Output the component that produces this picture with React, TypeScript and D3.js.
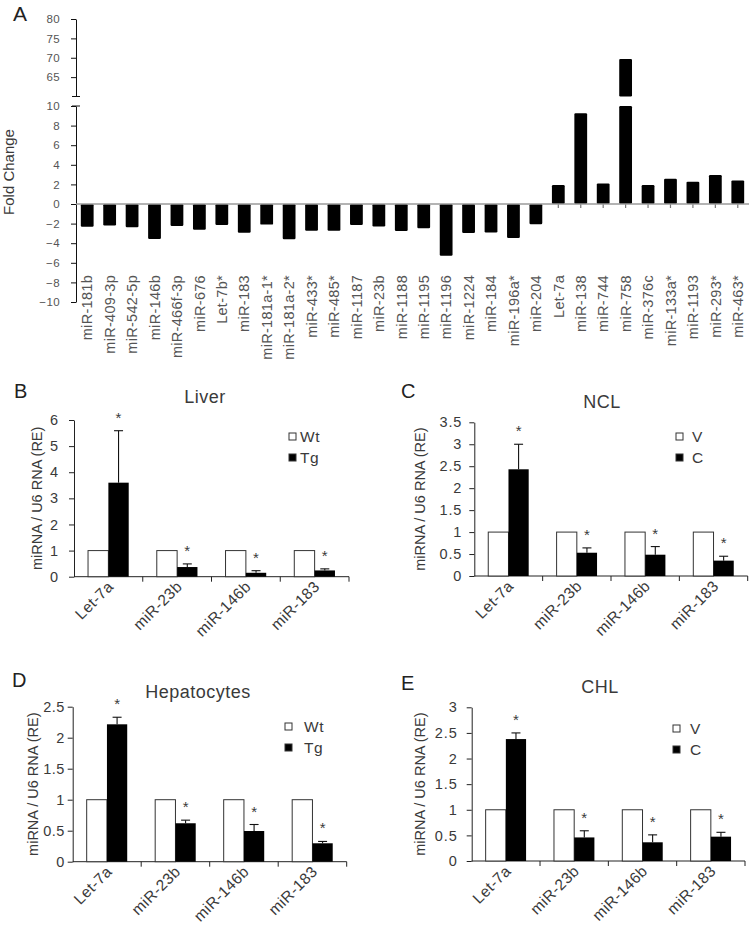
import { useEffect, useRef } from 'react';
import * as d3 from 'd3';

// Panel A: fold change of miRNAs
const foldCategories = [
  'miR-181b', 'miR-409-3p', 'miR-542-5p', 'miR-146b', 'miR-466f-3p', 'miR-676', 'Let-7b*',
  'miR-183', 'miR-181a-1*', 'miR-181a-2*', 'miR-433*', 'miR-485*', 'miR-1187', 'miR-23b',
  'miR-1188', 'miR-1195', 'miR-1196', 'miR-1224', 'miR-184', 'miR-196a*', 'miR-204',
  'Let-7a', 'miR-138', 'miR-744', 'miR-758', 'miR-376c', 'miR-133a*', 'miR-1193', 'miR-293*', 'miR-463*',
];
const foldValues = [
  -2.31, -2.2, -2.38, -3.57, -2.24, -2.62, -2.14, -2.93, -2.1, -3.6, -2.72, -2.72, -2.14, -2.3,
  -2.75, -2.47, -5.27, -2.96, -2.9, -3.47, -2.07,
  1.94, 9.25, 2.1, 69.7, 1.94, 2.58, 2.28, 2.96, 2.41,
];
const lowTicks = [-10, -8, -6, -4, -2, 0, 2, 4, 6, 8, 10];
const highTicks = [65, 70, 75, 80];

// Panels B-E
const mirs = ['Let-7a', 'miR-23b', 'miR-146b', 'miR-183'];
const controlValues = [1, 1, 1, 1];

const liverTg = [3.6, 0.37, 0.15, 0.24];
const liverTgErr = [1.99, 0.12, 0.08, 0.06];
const liverTicks = [0, 1, 2, 3, 4, 5, 6];

const nclC = [2.43, 0.53, 0.485, 0.35];
const nclCErr = [0.57, 0.11, 0.185, 0.1];
const nclTicks = [0, 0.5, 1, 1.5, 2, 2.5, 3, 3.5];

const hepTg = [2.216, 0.62, 0.495, 0.297];
const hepTgErr = [0.114, 0.05, 0.105, 0.03];
const hepTicks = [0, 0.5, 1, 1.5, 2, 2.5];

const chlC = [2.38, 0.46, 0.365, 0.475];
const chlCErr = [0.12, 0.13, 0.145, 0.085];
const chlTicks = [0, 0.5, 1, 1.5, 2, 2.5, 3];

const FONT = "'Liberation Sans', Arial, sans-serif";
const INK = '#3a3a3a';

interface Panel {
  letter: string;
  title: string;
  series: [string, string];
  values: number[];
  errors: number[];
  ticks: number[];
  xRange: [number, number];
  yRange: [number, number];
  letterPos: [number, number];
  titlePos: [number, number];
  yLabelX: number;
  tickPad: number;
  tickSpacing: number;
  legend: [number, number, number];
}

const panels: Panel[] = [
  {
    letter: 'B', title: 'Liver', series: ['Wt', 'Tg'], values: liverTg, errors: liverTgErr, ticks: liverTicks,
    xRange: [74, 349], yRange: [576.7, 420], letterPos: [14, 398], titlePos: [205, 403], yLabelX: 42, tickPad: 10,
    tickSpacing: 0.9, legend: [289, 433, 300],
  },
  {
    letter: 'C', title: 'NCL', series: ['V', 'C'], values: nclC, errors: nclCErr, ticks: nclTicks,
    xRange: [474.3, 747.7], yRange: [576, 422.3], letterPos: [401, 398], titlePos: [602, 408], yLabelX: 425, tickPad: 7,
    tickSpacing: 0.9, legend: [676, 433, 692],
  },
  {
    letter: 'D', title: 'Hepatocytes', series: ['Wt', 'Tg'], values: hepTg, errors: hepTgErr, ticks: hepTicks,
    xRange: [72.7, 346.7], yRange: [861.7, 706.7], letterPos: [12, 687], titlePos: [198, 698], yLabelX: 38, tickPad: 3,
    tickSpacing: 0.4, legend: [285, 723, 304],
  },
  {
    letter: 'E', title: 'CHL', series: ['V', 'C'], values: chlC, errors: chlCErr, ticks: chlTicks,
    xRange: [471.7, 745], yRange: [861, 707.3], letterPos: [401, 690], titlePos: [600, 693], yLabelX: 425, tickPad: 9,
    tickSpacing: 0.9, legend: [673, 725, 690],
  },
];

const drawFoldChange = (svg: d3.Selection<SVGSVGElement, unknown, null, undefined>) => {
  const g = svg.append('g');
  const yLow = d3.scaleLinear().domain([-10, 10]).range([302, 106]);
  const yHigh = d3.scaleLinear().domain([60, 80]).range([96.5, 19]);
  const x = d3.scaleBand().domain(foldCategories).range([76, 749]).paddingInner(0.43).paddingOuter(0.215);
  const axisX = 76;

  g.append('text').attr('x', 13).attr('y', 21).text('A')
    .style('font-family', FONT).style('font-size', '21px').attr('fill', '#222');

  g.append('text')
    .attr('transform', `translate(14,172) rotate(-90)`)
    .attr('text-anchor', 'middle')
    .style('font-family', FONT).style('font-size', '15px').attr('fill', INK)
    .text('Fold Change');

  const styleAxis = (sel: d3.Selection<SVGGElement, unknown, null, undefined>) => {
    sel.selectAll('path').attr('stroke', '#111');
    sel.selectAll('line').attr('stroke', '#111');
    sel.selectAll('text').style('font-family', FONT).style('font-size', '11.5px')
      .style('letter-spacing', '0.4px').attr('fill', '#555');
  };

  const low = g.append('g').attr('transform', `translate(${axisX},0)`)
    .call(d3.axisLeft(yLow).tickValues(lowTicks).tickSize(5).tickSizeOuter(0).tickPadding(11));
  styleAxis(low);
  const high = g.append('g').attr('transform', `translate(${axisX},0)`)
    .call(d3.axisLeft(yHigh).tickValues(highTicks).tickSize(5).tickSizeOuter(0).tickPadding(11));
  styleAxis(high);

  // break caps
  [yHigh(60), yLow(10)].forEach((yy) => {
    g.append('line').attr('x1', axisX - 4).attr('x2', axisX + 4).attr('y1', yy).attr('y2', yy)
      .attr('stroke', '#111');
  });

  const y0 = yLow(0);
  const bw = x.bandwidth();

  // category ticks under zero line
  g.append('g').selectAll('line').data(foldCategories).join('line')
    .attr('x1', (d) => (x(d) ?? 0) + bw / 2).attr('x2', (d) => (x(d) ?? 0) + bw / 2)
    .attr('y1', y0).attr('y2', y0 + 4)
    .attr('stroke', '#777').attr('stroke-width', 1.2);

  const data = foldCategories.map((c, i) => ({ c, v: foldValues[i] }));

  g.append('g').selectAll('rect').data(data).join('rect')
    .attr('x', (d) => x(d.c) ?? 0)
    .attr('width', bw)
    .attr('y', (d) => (d.v > 0 ? yLow(Math.min(d.v, 10)) : y0))
    .attr('height', (d) => Math.abs(yLow(Math.min(d.v, 10)) - y0))
    .attr('rx', 1.2)
    .attr('fill', '#000');

  g.append('g').selectAll('rect').data(data.filter((d) => d.v > 60)).join('rect')
    .attr('x', (d) => x(d.c) ?? 0)
    .attr('width', bw)
    .attr('y', (d) => yHigh(d.v))
    .attr('height', (d) => yHigh(60) - yHigh(d.v))
    .attr('rx', 1.2)
    .attr('fill', '#000');

  g.append('line').attr('x1', axisX).attr('x2', 749).attr('y1', y0).attr('y2', y0)
    .attr('stroke', '#9a9a9a').attr('stroke-width', 1.5);

  g.append('g').selectAll('text').data(foldCategories).join('text')
    .attr('transform', (d) => `translate(${(x(d) ?? 0) + bw / 2},275) rotate(-90)`)
    .attr('text-anchor', 'end')
    .attr('dy', '0.36em')
    .style('font-family', FONT).style('font-size', '14.5px').style('letter-spacing', '0.3px')
    .attr('fill', '#555')
    .text((d) => d);
};

const drawPanel = (svg: d3.Selection<SVGSVGElement, unknown, null, undefined>, p: Panel) => {
  const g = svg.append('g');
  const yMax = p.ticks[p.ticks.length - 1];
  const y = d3.scaleLinear().domain([0, yMax]).range(p.yRange);
  const x0 = d3.scaleBand().domain(mirs).range(p.xRange).padding(0);
  const x1 = d3.scaleBand().domain(p.series).range([0, x0.bandwidth()]).paddingInner(0).paddingOuter(0.69);
  const base = y(0);

  g.append('text').attr('x', p.letterPos[0]).attr('y', p.letterPos[1]).text(p.letter)
    .style('font-family', FONT).style('font-size', '20px').attr('fill', '#222');

  g.append('text').attr('x', p.titlePos[0]).attr('y', p.titlePos[1]).attr('text-anchor', 'middle')
    .style('font-family', FONT).style('font-size', '18px').style('letter-spacing', '0.5px')
    .attr('fill', INK).text(p.title);

  g.append('text')
    .attr('transform', `translate(${p.yLabelX},${(p.yRange[0] + p.yRange[1]) / 2}) rotate(-90)`)
    .attr('text-anchor', 'middle')
    .style('font-family', FONT).style('font-size', '14.5px').attr('fill', INK)
    .text('miRNA / U6 RNA (RE)');

  const yAxis = g.append('g').attr('transform', `translate(${p.xRange[0]},0)`)
    .call(d3.axisLeft(y).tickValues(p.ticks).tickSize(5).tickSizeOuter(0).tickPadding(p.tickPad).tickFormat(d3.format('~g')));
  yAxis.selectAll('path, line').attr('stroke', '#222');
  yAxis.selectAll('text').style('font-family', FONT).style('font-size', '14.5px')
    .style('letter-spacing', `${p.tickSpacing}px`).attr('fill', INK);

  // x axis line with ticks between groups
  g.append('line').attr('x1', p.xRange[0]).attr('x2', p.xRange[1]).attr('y1', base).attr('y2', base)
    .attr('stroke', '#222');
  g.append('g').selectAll('line').data(mirs).join('line')
    .attr('x1', (d) => (x0(d) ?? 0) + x0.bandwidth()).attr('x2', (d) => (x0(d) ?? 0) + x0.bandwidth())
    .attr('y1', base).attr('y2', base + 5).attr('stroke', '#222');

  const bw = x1.bandwidth();
  const rows = mirs.map((m, i) => ({ m, ctrl: controlValues[i], v: p.values[i], e: p.errors[i] }));

  // control bars
  g.append('g').selectAll('rect').data(rows).join('rect')
    .attr('x', (d) => (x0(d.m) ?? 0) + (x1(p.series[0]) ?? 0))
    .attr('y', (d) => y(d.ctrl))
    .attr('width', bw)
    .attr('height', (d) => base - y(d.ctrl))
    .attr('fill', '#fff').attr('stroke', '#333').attr('stroke-width', 1);

  const cx = (m: string) => (x0(m) ?? 0) + (x1(p.series[1]) ?? 0) + bw / 2;

  // error bars (upper only)
  const err = g.append('g');
  err.selectAll('line.v').data(rows).join('line').attr('class', 'v')
    .attr('x1', (d) => cx(d.m)).attr('x2', (d) => cx(d.m))
    .attr('y1', (d) => y(d.v)).attr('y2', (d) => y(d.v + d.e))
    .attr('stroke', '#111').attr('stroke-width', 1.1);
  err.selectAll('line.c').data(rows).join('line').attr('class', 'c')
    .attr('x1', (d) => cx(d.m) - 4.5).attr('x2', (d) => cx(d.m) + 4.5)
    .attr('y1', (d) => y(d.v + d.e)).attr('y2', (d) => y(d.v + d.e))
    .attr('stroke', '#111').attr('stroke-width', 1.1);

  // treatment bars
  g.append('g').selectAll('rect').data(rows).join('rect')
    .attr('x', (d) => (x0(d.m) ?? 0) + (x1(p.series[1]) ?? 0))
    .attr('y', (d) => y(d.v))
    .attr('width', bw)
    .attr('height', (d) => base - y(d.v))
    .attr('fill', '#000');

  // significance stars
  g.append('g').selectAll('text').data(rows).join('text')
    .attr('x', (d) => cx(d.m)).attr('y', (d) => y(d.v + d.e) - 8)
    .attr('text-anchor', 'middle')
    .style('font-family', FONT).style('font-size', '15px').attr('fill', INK)
    .text('*');

  // category labels
  g.append('g').selectAll('text').data(mirs).join('text')
    .attr('transform', (d) => `translate(${(x0(d) ?? 0) + x0.bandwidth() / 2 + 6},${base + 11}) rotate(-45)`)
    .attr('text-anchor', 'end')
    .style('font-family', FONT).style('font-size', '15.5px').style('letter-spacing', '0.4px')
    .attr('fill', INK).text((d) => d);

  // legend
  const [lx, ly, tx] = p.legend;
  const leg = g.append('g');
  leg.selectAll('rect').data(p.series).join('rect')
    .attr('x', lx).attr('y', (_, i) => ly + i * 21)
    .attr('width', 7).attr('height', 7)
    .attr('fill', (_, i) => (i === 0 ? '#fff' : '#000'))
    .attr('stroke', '#333').attr('stroke-width', 1);
  leg.selectAll('text').data(p.series).join('text')
    .attr('x', tx).attr('y', (_, i) => ly + i * 21 + 9)
    .style('font-family', FONT).style('font-size', '15.5px').style('letter-spacing', '0.5px')
    .attr('fill', INK).text((d) => d);
};

const App = () => {
  const svgRef = useRef<SVGSVGElement>(null);

  useEffect(() => {
    if (!svgRef.current) return;
    const svg = d3.select(svgRef.current);
    svg.selectAll('*').remove();
    drawFoldChange(svg);
    panels.forEach((p) => drawPanel(svg, p));
  }, []);

  return (
    <svg
      ref={svgRef}
      width={750}
      height={932}
      style={{ position: 'absolute', left: 0, top: 0, background: '#fff', display: 'block' }}
    />
  );
};

export default App;
